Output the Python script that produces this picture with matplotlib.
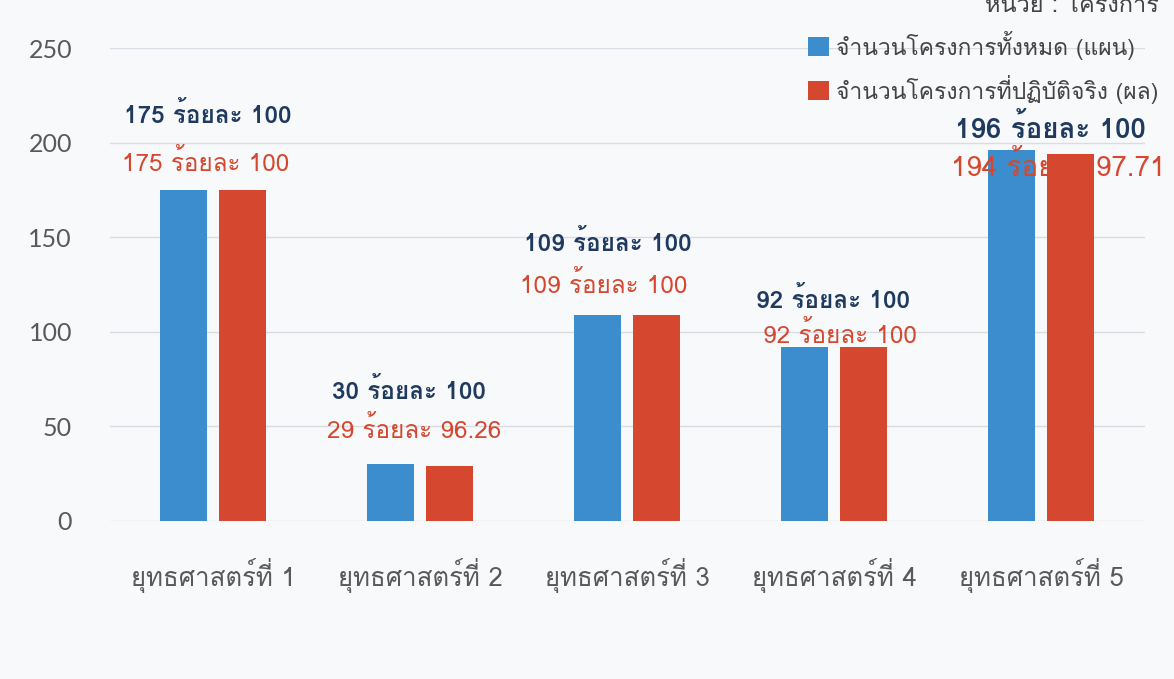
import numpy as np
import matplotlib
matplotlib.use("Agg")
import matplotlib.pyplot as plt
from matplotlib import font_manager
from matplotlib.ft2font import FT2Font

categories = ["ยุทธศาสตร์ที่ 1", "ยุทธศาสตร์ที่ 2", "ยุทธศาสตร์ที่ 3", "ยุทธศาสตร์ที่ 4", "ยุทธศาสตร์ที่ 5"]
plan_values = [175, 30, 109, 92, 196]
actual_values = [175, 29, 109, 92, 194]
plan_pct = ["100", "100", "100", "100", "100"]
actual_pct = ["100", "96.26", "100", "100", "97.71"]
series_names = ["จำนวนโครงการทั้งหมด (แผน)", "จำนวนโครงการที่ปฏิบัติจริง (ผล)"]
unit_text = "หน่วย : โครงการ"
y_ticks = [0, 50, 100, 150, 200, 250]


def find_thai_font(preferred=("Loma", "Garuda", "Umpush", "Waree")):
    found = {}
    for entry in font_manager.fontManager.ttflist:
        if entry.weight != 400 or entry.style != "normal":
            continue
        try:
            cmap = FT2Font(entry.fname).get_charmap()
        except Exception:
            continue
        if 0x0E01 in cmap and 0x0E33 in cmap:
            found[entry.name] = cmap
    for name in preferred:
        if name in found:
            return name, found[name]
    if found:
        name = sorted(found)[0]
        return name, found[name]
    return "DejaVu Sans", {}


THAI, THAI_CMAP = find_thai_font()
USE_PUA = all(c in THAI_CMAP for c in (0xF701, 0xF70A, 0xF710))

TALL = set("ปฝฟฬ")
UPPER = {0x0E31, 0x0E34, 0x0E35, 0x0E36, 0x0E37, 0x0E47, 0x0E4D}


def thai(text):
    # matplotlib has no Thai shaping: shift marks on tall consonants by hand
    if not USE_PUA:
        return text
    out = []
    base, has_upper = None, False
    for ch in text:
        c = ord(ch)
        if 0x0E01 <= c <= 0x0E2E:
            base, has_upper = ch, False
        elif c in UPPER:
            has_upper = True
            if base in TALL:
                if c == 0x0E31:
                    ch = chr(0xF710)
                elif 0x0E34 <= c <= 0x0E37:
                    ch = chr(0xF701 + c - 0x0E34)
        elif 0x0E48 <= c <= 0x0E4C:
            if has_upper and base in TALL:
                ch = chr(0xF70A + c - 0x0E48)
        elif c not in (0x0E38, 0x0E39, 0x0E3A):
            base = None
        out.append(ch)
    return "".join(out)


LABEL_FONT = [THAI, "DejaVu Sans"]
TICK_FONT = ["Lato", THAI, "DejaVu Sans"]
plt.rcParams["font.family"] = LABEL_FONT

BLUE = "#3b8dcd"
RED = "#d5482f"
NAVY = "#1f3a5f"
BG = "#f8f9fb"

fig = plt.figure(figsize=(11.74, 6.79), dpi=100, facecolor=BG)
ax = fig.add_axes([0.0933, 0.2327, 0.8816, 0.6966], facecolor=BG)

x = np.arange(len(categories))
w = 0.227
off = 0.1425
ax.bar(x - off, plan_values, w, color=BLUE, label=thai(series_names[0]), zorder=3)
ax.bar(x + off, actual_values, w, color=RED, label=thai(series_names[1]), zorder=3)

# label offsets from the top of the taller bar, in points:
# (plan dx, plan dy, actual dx, actual dy), plus a font size per group
label_off = [(-4, 54, -5, 20), (-8, 53, -4, 25), (-14, 52, -17, 22),
             (-1, 34, 4, 9), (7, 16, 12, -12)]
label_size = [17.5, 17.5, 17.5, 17.5, 20]
for i in range(len(categories)):
    top = max(plan_values[i], actual_values[i])
    pdx, pdy, adx, ady = label_off[i]
    ax.annotate(thai(f"{plan_values[i]} ร้อยละ {plan_pct[i]}"), (x[i], top),
                xytext=(pdx, pdy), textcoords="offset points",
                ha="center", va="center", fontsize=label_size[i], color=NAVY,
                fontweight="bold", zorder=4)
    ax.annotate(thai(f"{actual_values[i]} ร้อยละ {actual_pct[i]}"), (x[i], top),
                xytext=(adx, ady), textcoords="offset points",
                ha="center", va="center", fontsize=label_size[i], color=RED, zorder=4)

ax.set_xlim(-0.5, len(categories) - 0.5)
ax.set_ylim(0, 250)
ax.set_yticks(y_ticks)
ax.set_yticklabels([str(v) for v in y_ticks], family=TICK_FONT, fontsize=18, color="#595959")
ax.set_xticks(x)
ax.set_xticklabels([thai(c) for c in categories], fontsize=18.5, color="#595959")
ax.tick_params(axis="y", length=0, pad=27)
ax.tick_params(axis="x", length=0, pad=27)
ax.grid(axis="y", color="#d9dce3", linewidth=1, zorder=0)
for s in ax.spines.values():
    s.set_visible(False)

ax.legend(loc="upper right", bbox_to_anchor=(1.033, 1.08), frameon=False,
          fontsize=16.5, handlelength=0.9, handleheight=0.9,
          handletextpad=0.3, labelspacing=0.65, labelcolor="#444444")

fig.text(985 / 1174, 1.01, thai(unit_text), ha="left", va="top",
         fontsize=17, color="#444444")

fig.savefig("out.png", dpi=100, facecolor=BG)
